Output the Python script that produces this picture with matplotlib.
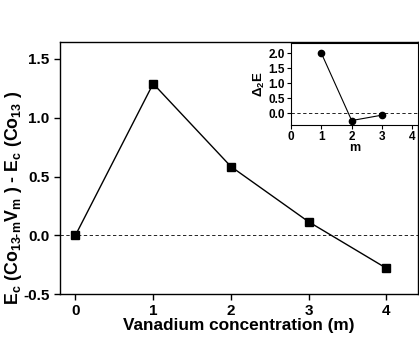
import matplotlib
matplotlib.use("Agg")
import matplotlib.pyplot as plt

# main curve
m_vals = [0, 1, 2, 3, 4]
energy = [0.0, 1.29, 0.585, 0.115, -0.28]

# inset: second difference
m_inset = [1, 2, 3]
delta2 = [2.0, -0.24, -0.06]

plt.rcParams['font.family'] = ['Liberation Sans', 'DejaVu Sans']
plt.rcParams['font.weight'] = 'bold'
plt.rcParams['mathtext.fontset'] = 'custom'
plt.rcParams['mathtext.rm'] = 'Liberation Sans:bold'
plt.rcParams['mathtext.bf'] = 'Liberation Sans:bold'
plt.rcParams['mathtext.it'] = 'Liberation Sans:bold'
plt.rcParams['mathtext.default'] = 'bf'

fig = plt.figure(figsize=(4.19, 3.38), dpi=100)
ax = fig.add_axes([0.143, 0.130, 0.855, 0.746])
ax.plot(m_vals, energy, "-s", color="k", linewidth=1, markersize=5.5)
ax.axhline(0, color="k", linestyle="--", linewidth=0.6, dashes=(4, 3))
ax.set_xlim(-0.2, 4.41)
ax.set_ylim(-0.5, 1.645)
ax.set_xticks([0, 1, 2, 3, 4])
ax.set_yticks([-0.5, 0.0, 0.5, 1.0, 1.5])
ax.set_yticklabels(["-0.5", "0.0", "0.5", "1.0", "1.5"])
ax.tick_params(direction="out", labelsize=11, length=4, width=1)
for s in ax.spines.values():
    s.set_linewidth(1)
ax.set_xlabel("Vanadium concentration (m)", fontsize=12.4, fontweight="bold", labelpad=0)
ax.set_ylabel(r"E$_c$ (Co$_{13\text{-}m}$V$_m$ ) - E$_c$ (Co$_{13}$ )", fontsize=12.8,
              fontweight="bold")
ax.yaxis.set_label_coords(-0.1, 0.38)

ins = fig.add_axes([0.6945, 0.630, 0.302, 0.243])
ins.plot(m_inset, delta2, "-o", color="k", linewidth=0.8, markersize=4.5)
ins.axhline(0, color="k", linestyle="--", linewidth=0.6, dashes=(4, 3))
ins.set_xlim(0, 4.17)
ins.set_ylim(-0.39, 2.34)
ins.set_xticks([0, 1, 2, 3, 4])
ins.set_yticks([0.0, 0.5, 1.0, 1.5, 2.0])
ins.tick_params(direction="out", labelsize=8.5, length=3, width=0.8, pad=1.5)
ins.set_xlabel("m", fontsize=9, fontweight="bold", labelpad=-1)
ins.set_ylabel(r"$\Delta_2$E", fontsize=9.5, fontweight="bold", labelpad=1)

fig.savefig("out.png", dpi=100)
